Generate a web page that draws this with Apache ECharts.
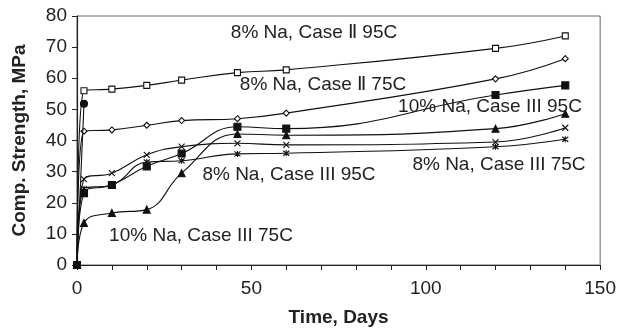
<!DOCTYPE html>
<html>
<head>
<meta charset="utf-8">
<script src="https://cdn.jsdelivr.net/npm/echarts@6/dist/echarts.min.js"></script>
<style>html,body{margin:0;padding:0;background:#fff}#c{width:619px;height:332px}</style>
</head>
<body>
<div id="c"></div>
<script>
// Data
const days = [0, 2, 10, 20, 30, 46, 60, 120, 140];
const na8CaseII95 = [0, 56.0, 56.5, 57.7, 59.4, 61.8, 62.7, 69.6, 73.6];
const na8CaseII75 = [0, 43.0, 43.4, 44.9, 46.4, 47.0, 48.8, 59.8, 66.3];
const circleDays = [0, 2];
const circleVals = [0, 51.8];
const na10CaseIII95 = [0, 23.1, 25.7, 31.7, 35.8, 44.4, 43.8, 54.6, 57.7];
const na10CaseIII75 = [0, 13.5, 16.7, 17.8, 29.5, 42.1, 41.7, 43.8, 48.6];
const na8CaseIII95 = [0, 27.6, 29.5, 35.4, 38.0, 39.1, 38.6, 39.5, 44.1];
const na8CaseIII75 = [0, 24.5, 25.7, 33.1, 33.5, 35.7, 35.9, 38.0, 40.4];
const xTickLabels = [0, 50, 100, 150];
const yTickLabels = [0, 10, 20, 30, 40, 50, 60, 70, 80];
const annotations = [
  {text: '8% Na, Case \u2161 95C', x: 314, y: 33},
  {text: '8% Na, Case \u2161 75C', x: 323, y: 85},
  {text: '10% Na, Case III 95C', x: 490, y: 107},
  {text: '8% Na, Case III 75C', x: 499, y: 165},
  {text: '8% Na, Case III 95C', x: 289, y: 175},
  {text: '10% Na, Case III 75C', x: 201, y: 236}
];

const pairs = (xs, ys) => xs.map((d, i) => [d, ys[i]]);
const crossPath = 'path://M0,0L10,10M10,0L0,10';
const starPath = 'path://M0,0L10,10M10,0L0,10M5,-1L5,11';

function ser(data, symbol, fill, z, size) {
  return {
    type: 'line', data: data, smooth: 0.45, symbol: symbol, symbolSize: size || 6, z: z,
    showSymbol: true,
    lineStyle: {color: '#111', width: 1.1},
    itemStyle: {color: fill, borderColor: '#111', borderWidth: 1.1},
    emphasis: {disabled: true}
  };
}

const chart = echarts.init(document.getElementById('c'));
const font = 'Liberation Sans, Arial, sans-serif';
chart.setOption({
  animation: false,
  grid: {left: 77, right: 18, top: 16, bottom: 65, show: true, borderColor: '#666', borderWidth: 1},
  xAxis: {
    type: 'value', min: 0, max: 150, interval: 10,
    name: 'Time, Days', nameLocation: 'middle', nameGap: 43,
    nameTextStyle: {fontFamily: font, fontSize: 19, fontWeight: 'bold', color: '#222'},
    axisLine: {show: true, onZero: false, lineStyle: {color: '#222', width: 1.2}},
    axisTick: {show: true, inside: false, length: 5, lineStyle: {color: '#222'}},
    splitLine: {show: false},
    axisLabel: {fontFamily: font, fontSize: 19, color: '#222', margin: 14,
      formatter: v => xTickLabels.indexOf(v) >= 0 ? String(v) : ''}
  },
  yAxis: {
    type: 'value', min: 0, max: 80, interval: 10,
    name: 'Comp. Strength, MPa', nameLocation: 'middle', nameGap: 48, nameRotate: 90,
    nameTextStyle: {fontFamily: font, fontSize: 19, fontWeight: 'bold', color: '#222'},
    axisLine: {show: true, lineStyle: {color: '#222', width: 1.2}},
    axisTick: {show: true, inside: false, length: 5, lineStyle: {color: '#222'}},
    splitLine: {show: false},
    axisLabel: {fontFamily: font, fontSize: 19, color: '#222', margin: 10,
      formatter: v => yTickLabels.indexOf(v) >= 0 ? String(v) : ''}
  },
  series: [
    ser(pairs(days, na8CaseII95), 'rect', '#fff', 2),
    ser(pairs(days, na8CaseII75), 'diamond', '#fff', 2),
    ser(pairs(circleDays, circleVals), 'circle', '#111', 3, 7),
    ser(pairs(days, na8CaseIII95), crossPath, 'none', 2, 6),
    ser(pairs(days, na8CaseIII75), starPath, 'none', 2, 6),
    ser(pairs(days, na10CaseIII75), 'triangle', '#111', 3, 7),
    ser(pairs(days, na10CaseIII95), 'rect', '#111', 4, 7)
  ],
  graphic: annotations.map(a => ({
    type: 'text', x: a.x, y: a.y, z: 10,
    style: {text: a.text, fontFamily: font, fontSize: 19, fill: '#222', align: 'center', verticalAlign: 'middle'}
  }))
});
</script>
</body>
</html>
